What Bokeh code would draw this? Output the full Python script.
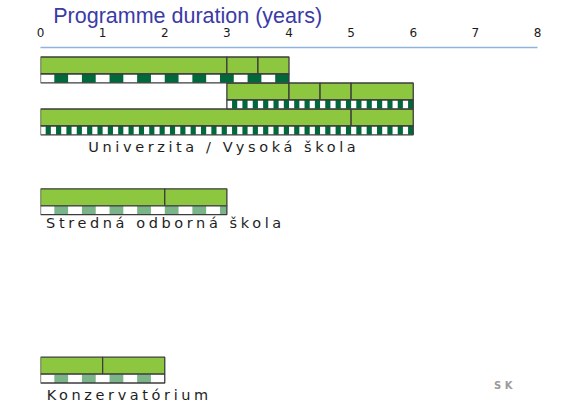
import numpy as np
from bokeh.plotting import figure
from bokeh.models import Range1d, FixedTicker
from bokeh.layouts import column
from bokeh.core.properties import value
from bokeh.embed import file_html
from bokeh.resources import INLINE

# ---------------- data ----------------
title_text = "Programme duration (years)"
x_ticks = [0, 1, 2, 3, 4, 5, 6, 7, 8]
programmes = ["Univerzita / Vysoká škola", "Stredná odborná škola", "Konzervatórium"]
country = "SK"

# green bar segments: programme index, row inside programme, start, end (years)
seg_prog = [0, 0, 0, 0, 0, 0, 0, 0, 0, 1, 1, 2, 2]
seg_row = [0, 0, 0, 1, 1, 1, 1, 2, 2, 0, 0, 0, 0]
seg_start = [0, 3, 3.5, 3, 4, 4.5, 5, 0, 5, 0, 2, 0, 1]
seg_end = [3, 3.5, 4, 4, 4.5, 5, 6, 5, 6, 2, 3, 1, 2]

# striped bars under the green ones
str_prog = [0, 0, 0, 1, 2]
str_row = [0, 1, 2, 0, 0]
str_start = [0, 3, 0, 0, 0]
str_end = [4, 6, 6, 3, 2]
str_kind = ["wide_dark", "narrow_dark", "narrow_dark", "wide_light", "wide_light"]

# ---------------- layout / style ----------------
prog_top = [56.5, 188.3, 356.7]     # vertical slot of each programme block
row_pitch = 26.0
green_h = 17.0
stripe_h = 8.8
label_x = [0.77, 0.09, 0.10]
label_base = [152.0, 227.3, 400.0]
LABEL_PX = 14.5
TITLE_PX = 21.5
SK_PX = 10.0
BASE_SHIFT = 0.345   # baseline correction (fraction of font size)

GREEN = "#8DC63F"
EDGE = "#3C3C3C"
DARK = "#00693C"
LIGHT = "#7BB488"
kind_style = {
    "wide_dark": (4.0 / 9.0, DARK),
    "narrow_dark": (1.0 / 6.0, DARK),
    "wide_light": (4.0 / 9.0, LIGHT),
}

# ---------------- title strip ----------------
pa = figure(width=568, height=32, x_range=Range1d(0, 8), y_range=Range1d(32, 0),
            title=None, x_axis_location=None, y_axis_location=None,
            toolbar_location=None, output_backend="svg",
            min_border_left=40, min_border_right=31, min_border_top=0,
            min_border_bottom=0)
pa.grid.visible = False
pa.outline_line_color = None
pa.styles = {"margin-bottom": "-12px"}
pa.text(x=[0.205], y=[23 - BASE_SHIFT * TITLE_PX], text=[title_text],
        text_font=value("Liberation Sans"), text_font_size=value(f"{TITLE_PX}px"),
        text_color="#3B3BA6", text_baseline="alphabetic", text_align="left")

# ---------------- main chart ----------------
p = figure(width=568, height=387, x_range=Range1d(0, 8), y_range=Range1d(407, 47),
           title=None, x_axis_location="above", y_axis_location=None,
           toolbar_location=None, output_backend="svg",
           min_border_left=40, min_border_right=31, min_border_top=27,
           min_border_bottom=0)
p.styles = {"letter-spacing": "3.6px"}
p.border_fill_color = None
p.grid.visible = False
p.outline_line_color = None

ax = p.xaxis[0]
ax.ticker = FixedTicker(ticks=x_ticks)
ax.major_tick_out = 0
ax.major_tick_in = 0
ax.minor_tick_out = 0
ax.minor_tick_in = 0
ax.axis_line_color = "#8EB4DE"
ax.axis_line_width = 1.6
ax.major_label_text_font = "DejaVu Sans"
ax.major_label_text_font_size = "12px"
ax.major_label_text_color = "#1A1A1A"
ax.major_label_standoff = 11

# green segments
g_top = [prog_top[pi] + r * row_pitch for pi, r in zip(seg_prog, seg_row)]
g_bot = [t + green_h for t in g_top]
p.quad(left=seg_start, right=seg_end, top=g_top, bottom=g_bot,
       fill_color=GREEN, line_color=EDGE, line_width=1.3)

# striped bars
s_top = [prog_top[pi] + r * row_pitch + green_h for pi, r in zip(str_prog, str_row)]
s_bot = [t + stripe_h for t in s_top]
p.quad(left=str_start, right=str_end, top=s_top, bottom=s_bot,
       fill_color="white", line_color=None)
for s, e, t, b, k in zip(str_start, str_end, s_top, s_bot, str_kind):
    period, col = kind_style[k]
    lefts = np.arange(s + period / 2, e - 1e-9, period)
    rights = np.minimum(lefts + period / 2, e)
    p.quad(left=lefts, right=rights, top=[t] * len(lefts), bottom=[b] * len(lefts),
           fill_color=col, line_color=None)
p.quad(left=str_start, right=str_end, top=s_top, bottom=s_bot,
       fill_color=None, line_color=EDGE, line_width=1.3)

# programme labels
p.text(x=label_x, y=[b - BASE_SHIFT * LABEL_PX for b in label_base], text=programmes,
       text_font=value("DejaVu Sans"), text_font_size=value(f"{LABEL_PX}px"),
       text_color="#1E1E1E", text_baseline="alphabetic", text_align="left")

# country code
p.text(x=[7.30], y=[388.3 - BASE_SHIFT * SK_PX], text=[country],
       text_font=value("DejaVu Sans"), text_font_size=value(f"{SK_PX}px"),
       text_font_style="bold", text_color="#9A9A9A",
       text_baseline="alphabetic", text_align="left")

layout = column(pa, p, spacing=0)
open("out.html", "w").write(file_html(layout, INLINE))
